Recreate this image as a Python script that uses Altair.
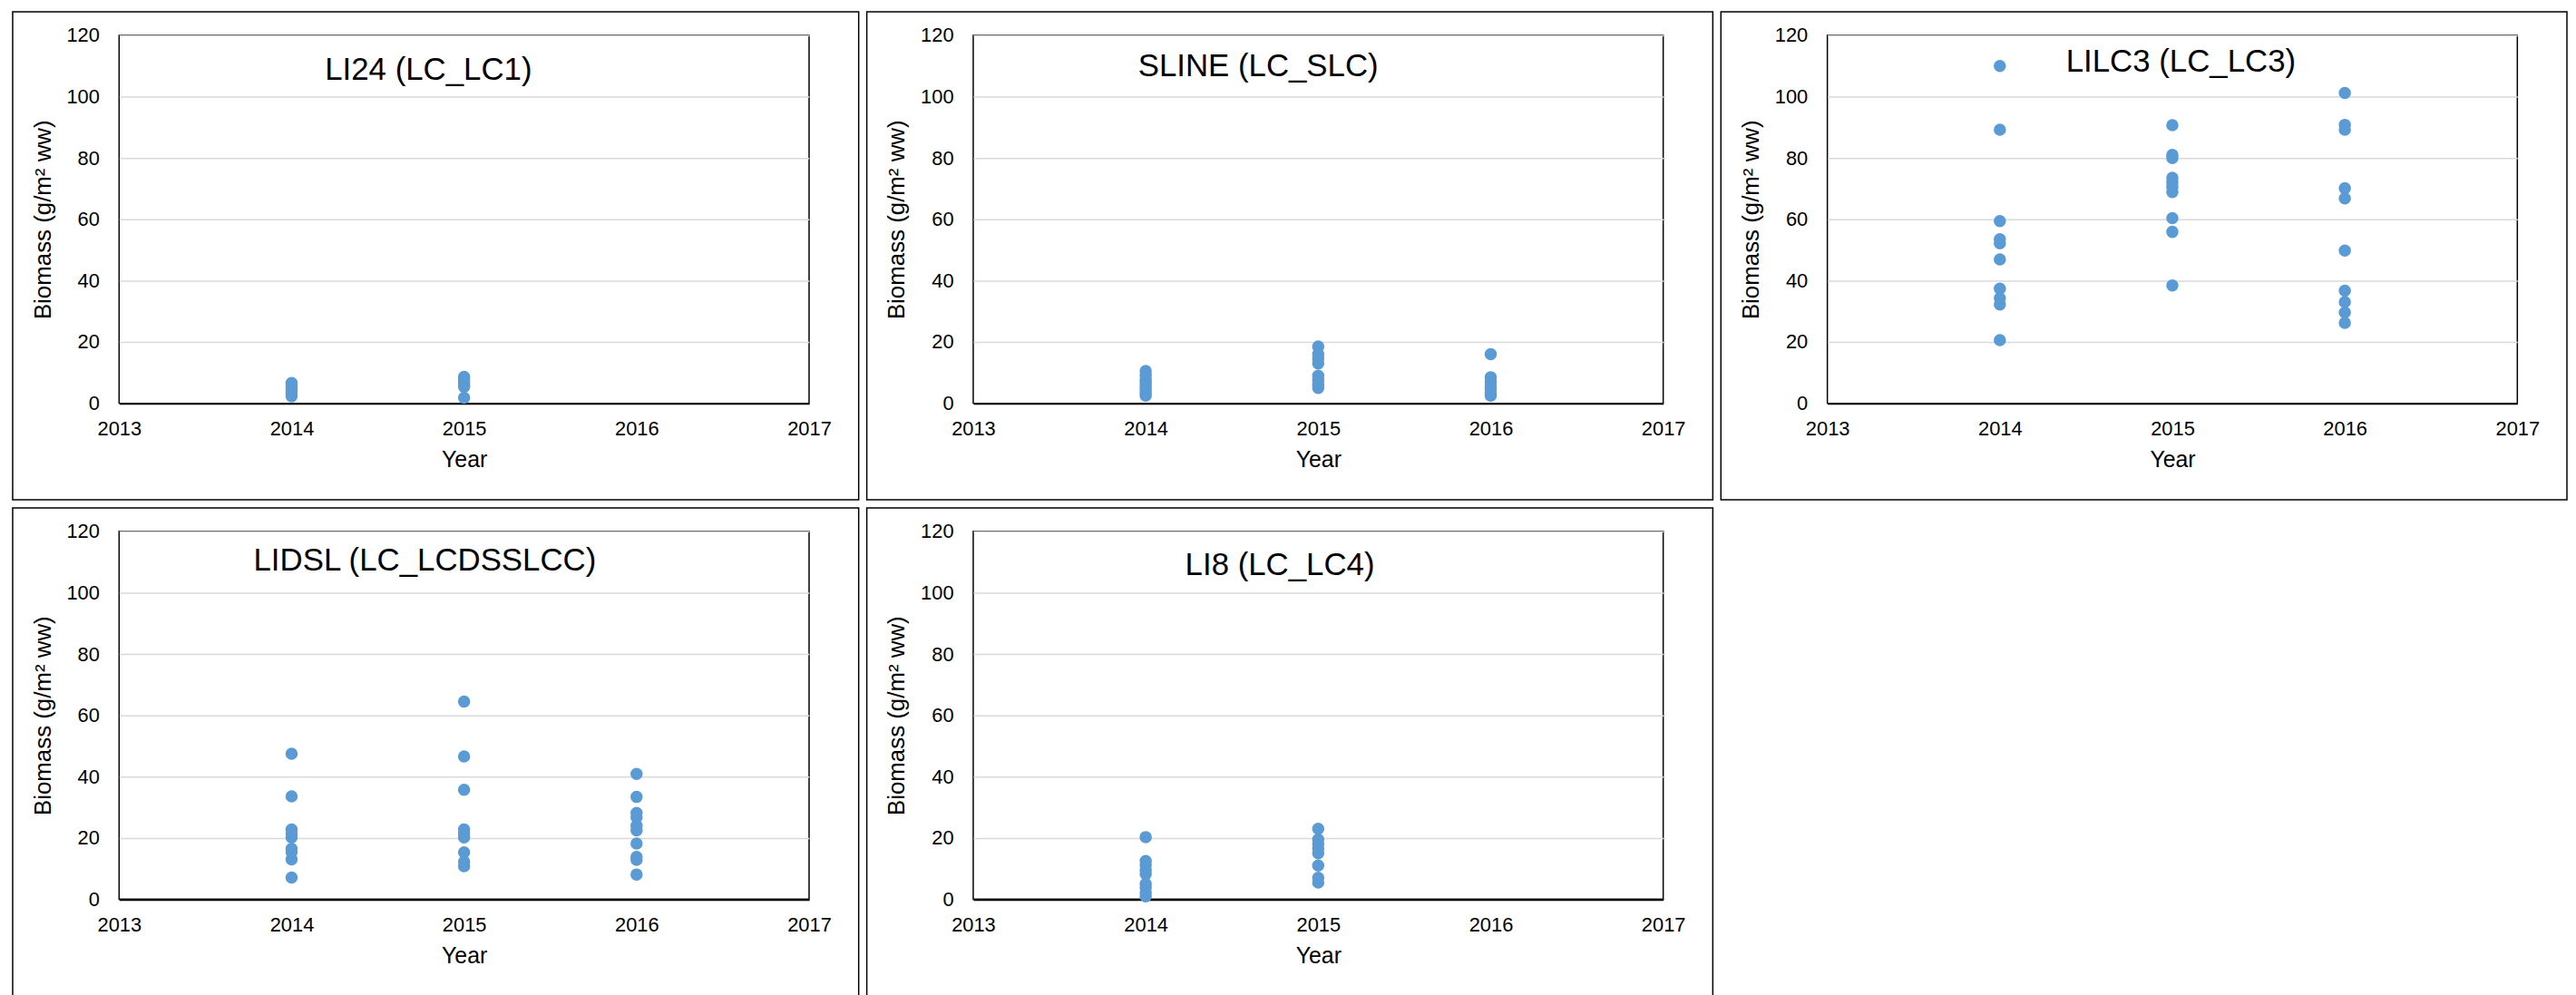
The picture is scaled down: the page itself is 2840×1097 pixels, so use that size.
import altair as alt
import pandas as pd

FONT = "Liberation Sans"
BLUE = "#5B9BD5"

year_ticks = [2013, 2014, 2015, 2016, 2017]
biomass_ticks = [0, 20, 40, 60, 80, 100, 120]

titles = ["LI24 (LC_LC1)", "SLINE (LC_SLC)", "LILC3 (LC_LC3)",
          "LIDSL (LC_LCDSSLCC)", "LI8 (LC_LC4)"]

# LI24 (LC_LC1)
li24_2014 = [2.3, 3.0, 3.8, 4.5, 5.2, 6.0, 6.6]
li24_2015 = [1.8, 5.4, 6.2, 7.0, 7.8, 8.6]

# SLINE (LC_SLC)
sline_2014 = [2.5, 3.5, 4.5, 5.5, 6.5, 7.5, 9.0, 10.5]
sline_2015 = [5.0, 6.0, 7.5, 9.0, 13.0, 14.5, 16.0, 18.5]
sline_2016 = [2.5, 3.5, 4.5, 5.5, 7.0, 8.5, 16.0]

# LILC3 (LC_LC3)
lilc3_2014 = [110.0, 89.2, 59.4, 53.5, 52.2, 46.9, 37.4, 34.3, 32.2, 20.6]
lilc3_2015 = [90.7, 81.0, 80.0, 73.5, 72.0, 70.5, 68.9, 60.4, 55.9, 38.4]
lilc3_2016 = [101.2, 90.8, 89.2, 70.1, 66.8, 49.8, 36.7, 33.0, 29.6, 26.2]

# LIDSL (LC_LCDSSLCC)
lidsl_2014 = [47.5, 33.6, 22.8, 21.5, 20.2, 16.5, 15.5, 13.0, 7.1]
lidsl_2015 = [64.5, 46.6, 35.7, 22.8, 21.5, 20.2, 15.3, 12.3, 10.8]
lidsl_2016 = [40.9, 33.4, 28.2, 26.8, 24.0, 22.5, 18.2, 13.8, 12.9, 8.1]

# LI8 (LC_LC4)
li8_2014 = [20.3, 12.5, 11.2, 9.5, 8.2, 5.0, 3.8, 2.2, 1.0]
li8_2015 = [23.0, 19.5, 18.0, 16.5, 15.0, 11.0, 7.0, 5.5]

panel_series = [
    {2014: li24_2014, 2015: li24_2015},
    {2014: sline_2014, 2015: sline_2015, 2016: sline_2016},
    {2014: lilc3_2014, 2015: lilc3_2015, 2016: lilc3_2016},
    {2014: lidsl_2014, 2015: lidsl_2015, 2016: lidsl_2016},
    {2014: li8_2014, 2015: li8_2015},
]

# title placement inside each plot area (pixels: centre x, baseline y)
title_pos = [(343, 49), (316, 45), (392, 40), (339, 43), (340, 48)]

PW, PH = 765, 408


def make_panel(series, title, pos):
    rows = [{"year": y, "biomass": v} for y, vals in series.items() for v in vals]
    df = pd.DataFrame(rows)
    tdf = pd.DataFrame({"label": [title]})

    frame = alt.Chart(tdf).mark_rect(
        fillOpacity=0, stroke="black", strokeWidth=1.5
    ).encode(
        x=alt.value(-118), x2=alt.value(PW + 55),
        y=alt.value(-26), y2=alt.value(PH + 107),
    )

    pts = alt.Chart(df).mark_circle(size=185, color=BLUE, opacity=1).encode(
        x=alt.X("year:Q",
                scale=alt.Scale(domain=[2013, 2017], nice=False, zero=False),
                axis=alt.Axis(values=year_ticks, format="d", title="Year",
                              labelFlush=False, grid=False)),
        y=alt.Y("biomass:Q",
                scale=alt.Scale(domain=[0, 120], nice=False),
                axis=alt.Axis(values=biomass_ticks, title="Biomass (g/m² ww)",
                              grid=True, domain=False)),
    )

    txt = alt.Chart(tdf).mark_text(
        font=FONT, fontSize=35, color="black", align="center", baseline="alphabetic"
    ).encode(text="label:N", x=alt.value(pos[0]), y=alt.value(pos[1]))

    return alt.layer(frame, pts, txt).properties(width=PW, height=PH)


panels = [make_panel(s, t, p) for s, t, p in zip(panel_series, titles, title_pos)]

row1 = alt.hconcat(panels[0], panels[1], panels[2], spacing=5)
row2 = alt.hconcat(panels[3], panels[4], spacing=5)

chart = alt.vconcat(row1, row2, spacing=5).properties(
    padding={"left": 4, "top": 0, "right": 0, "bottom": 0},
    background="white",
).configure_view(
    stroke="black", strokeWidth=1.5
).configure_axis(
    labelFont=FONT, titleFont=FONT, labelColor="black", titleColor="black",
    labelFontSize=22, titleFontSize=25, titleFontWeight="normal",
    gridColor="#D9D9D9", gridWidth=1.5, ticks=False, tickSize=0,
).configure_axisX(
    labelPadding=18, titlePadding=11, domainColor="black", domainWidth=2.5,
).configure_axisY(
    labelPadding=22, titlePadding=13, titleFontSize=26,
)

chart.save("out.html", embed_options={"renderer": "svg", "actions": False})
